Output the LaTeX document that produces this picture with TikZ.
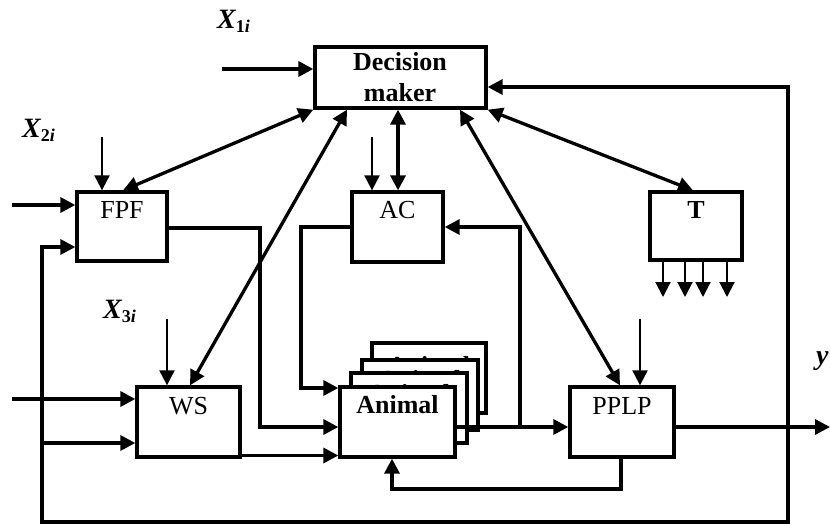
\documentclass[tikz,border=0pt]{standalone}
\usepackage{fontspec}
\setmainfont{Liberation Serif}
\usetikzlibrary{arrows.meta,calc}
\begin{document}
\begin{tikzpicture}[x=1pt,y=-1pt,
  box/.style={draw,line width=3.3pt,fill=white,inner sep=0pt,line join=miter},
  lbl/.style={inner sep=0pt,font=\fontsize{26}{30}\selectfont},
  blbl/.style={inner sep=0pt,font=\fontsize{26}{30}\selectfont\bfseries},
  xlbl/.style={inner sep=0pt,font=\fontsize{28}{30}\selectfont\bfseries\itshape},
  tip/.tip={Triangle[length=15pt,width=15pt]},
  arr/.style={line width=3.3pt,-tip,line join=miter},
  darr/.style={line width=3.3pt,tip-tip,line join=miter},
  tarr/.style={line width=2pt,-tip},
  ln/.style={line width=3.3pt,line join=miter}]
\useasboundingbox[fill=white] (0,0) rectangle (830,524);

% boxes
\node[box,minimum width=171pt,minimum height=61pt] (dm) at (400.5,77.5) {};
\node[blbl,anchor=base] (dmt1) at (400,71) {Decision};
\node[blbl,anchor=base] (dmt2) at (400,102) {maker};

\node[box,minimum width=90pt,minimum height=69pt] (fpf) at (122,226.5) {};
\node[lbl,anchor=base] (fpft) at (122,218) {FPF};

\node[box,minimum width=91pt,minimum height=70pt] (ac) at (397.5,227) {};
\node[lbl,anchor=base] (act) at (397.5,218) {AC};

\node[box,minimum width=92pt,minimum height=68pt] (t) at (696,226) {};
\node[blbl,anchor=base] (tt) at (696,218) {T};

\node[box,minimum width=103pt,minimum height=70pt] (ws) at (188.5,422) {};
\node[lbl,anchor=base] (wst) at (188.5,414) {WS};

\node[box,minimum width=104pt,minimum height=70pt] (pplp) at (622,422) {};
\node[lbl,anchor=base] (pplpt) at (622,414) {PPLP};

% stacked animal boxes (back to front)
\node[box,minimum width=114pt,minimum height=70pt] (an4) at (429,378) {};
\node[blbl,anchor=base] (an4t) at (429,374) {Animal};
\node[box,minimum width=116pt,minimum height=70pt] (an3) at (420,395) {};
\node[blbl,anchor=base] (an3t) at (420,388) {Animal};
\node[box,minimum width=116pt,minimum height=70pt] (an2) at (409,408) {};
\node[blbl,anchor=base] (an2t) at (409,402) {Animal};
\node[box,minimum width=115pt,minimum height=70pt] (an) at (397.5,422) {};
\node[blbl,anchor=base] (ant) at (397.5,413) {Animal};

% labels
\node[xlbl,anchor=base west] (x1) at (217,29) {X\raisebox{-4pt}{\fontsize{18}{18}\selectfont\upshape 1\itshape i}};
\node[xlbl,anchor=base west] (x2) at (22,138) {X\raisebox{-4pt}{\fontsize{18}{18}\selectfont\upshape 2\itshape i}};
\node[xlbl,anchor=base west] (x3) at (103,318) {X\raisebox{-4pt}{\fontsize{18}{18}\selectfont\upshape 3\itshape i}};
\node[xlbl,anchor=base west] (yl) at (816,364) {y};

% free ends
\coordinate (x1s) at (222,69);
\coordinate (in1) at (12,205);
\coordinate (in2) at (12,399);
\coordinate (fbl) at (42,522);
\coordinate (fbr) at (788,522);
\coordinate (fbws) at (42,443);
\coordinate (x2s) at (102,137);
\coordinate (acs) at (372,137);
\coordinate (x3s) at (167,319);
\coordinate (pps) at (640,319);
\coordinate (yout) at (830,427);
\coordinate (br) at (520,427);

% inputs
\draw[arr] (x1s) -- (x1s -| dm.west);
\draw[arr] (in1) -- (in1 -| fpf.west);
\draw[arr] (in2) -- (in2 -| ws.west);
\draw[tarr] (x2s) -- (x2s |- fpf.north);
\draw[tarr] (acs) -- (acs |- ac.north);
\draw[tarr] (x3s) -- (x3s |- ws.north);
\draw[tarr] (pps) -- (pps |- pplp.north);

% feedback loop
\draw[darr] (fpf.west |- 0,247) -- (42,247) -- (fbl) -- (fbr) -- (788,87) -- (dm.east |- 0,87);
\draw[arr] (fbws) -- (fbws -| ws.west);

% flows to animal
\draw[arr] (fpf.east |- 0,228) -- (260,228) -- (260,427) -- (an.west |- 0,427);
\draw[arr] (ac.west |- 0,227) -- (301,227) -- (301,388) -- (an.west |- 0,388);
\draw[arr] (ws.east |- 0,455.5) -- (an.west |- 0,455.5);
\draw[arr] (an.east |- 0,427) -- (pplp.west |- 0,427);
\draw[arr] (br) -- (520,227) -- (ac.east |- 0,227);
\draw[arr] (pplp.east |- 0,427) -- (yout);
\draw[arr] (pplp.south -| 621,0) -- (621,489) -- (392,489) -- (an.south -| 392,0);

% decision maker links
\draw[darr] (fpf.north -| 123,0) -- (dm.south west);
\draw[darr] (ws.north -| 190,0) -- (dm.south -| 347,0);
\draw[darr] (ac.north -| 398,0) -- (dm.south -| 398,0);
\draw[darr] (pplp.north -| 620,0) -- (dm.south -| 460,0);
\draw[darr] (t.north -| 693,0) -- (dm.south east);

% T outputs
\foreach \xx/\nm in {663/a,685/b,703/c,727/d}{
  \coordinate (to\nm) at (\xx,297);
  \draw[tarr] (t.south -| to\nm) -- (to\nm);
}
\end{tikzpicture}
\end{document}
